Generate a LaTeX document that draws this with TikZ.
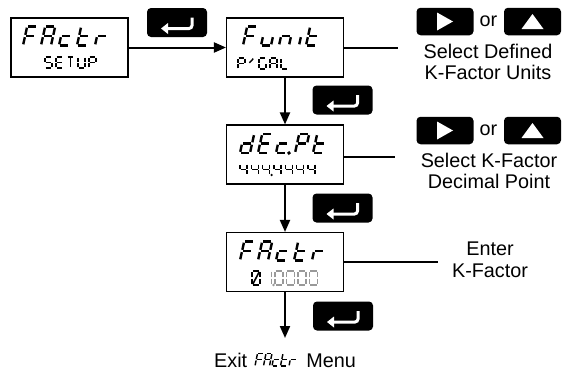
\documentclass[tikz,border=0pt]{standalone}
\usepackage{fontspec}
\setmainfont{Liberation Sans}
\usetikzlibrary{arrows.meta}

% Segment paths of one LCD cell (local coordinates, origin at bottom left, y up)
\def\lcdsega{(\G,\H) -- (\W-\G,\H)}
\def\lcdsegb{(\W,\H-\G) -- (\W,\H/2+\G)}
\def\lcdsegc{(\W,\H/2-\G) -- (\W,\G)}
\def\lcdsegd{(\G,0) -- (\W-\G,0)}
\def\lcdsege{(0,\G) -- (0,\H/2-\G)}
\def\lcdsegf{(0,\H/2+\G) -- (0,\H-\G)}
\def\lcdsegg{(\G,\H/2) -- (\W-\G,\H/2)}
\def\lcdsegm{(\W/2,\H-\G) -- (\W/2,\G)}
\def\lcdsegs{(\W*0.2,\H/2+\G) -- (\W*0.75,\H-\G)}
\def\lcdsegz{(\G,\G) -- (\W-\G,\H-\G)}
\def\lcdsegp{(\W+2*\G+0.6,0) circle[radius=0.3]}

% #1 x, #2 baseline y, #3 width, #4 height, #5 slant, #6 stroke, #7 segments
\newcommand\lcdglyph[7]{%
  \begin{scope}[shift={(#1,#2)}, x={(1pt,0pt)}, y={(#5pt,1pt)}, line width=#6pt]
    \def\W{#3}\def\H{#4}\pgfmathsetmacro\G{#6*0.5}
    \foreach \s in {#7}{\expandafter\draw\csname lcdseg\s\endcsname;}
  \end{scope}}
\newcommand\biglcd[3]{\lcdglyph{#1}{#2}{10}{19}{0.22}{2.4}{#3}}
\newcommand\smalllcd[3]{\lcdglyph{#1}{#2}{7}{11}{0}{1.4}{#3}}

\tikzset{
  lcdbox/.style={draw, line width=1.1pt, minimum width=117pt, minimum height=59pt, inner sep=0pt},
  enterkey/.style={fill=black, rounded corners=4pt, minimum width=60pt, minimum height=29pt, inner sep=0pt},
  navkey/.style={fill=black, rounded corners=4pt, minimum width=57pt, minimum height=27.5pt, inner sep=0pt},
  flow/.style={line width=2pt, -{Triangle[length=12pt,width=10pt]}},
  tie/.style={line width=2pt},
  lbl/.style={font=\fontsize{19.8}{22}\selectfont, inner sep=0pt},
  keymark/.style={white},
}

\begin{document}
\begin{tikzpicture}[x=1pt, y=-1pt]
\useasboundingbox (0,0) rectangle (562,372);

% display boxes
\node[lcdbox] (b1) at (69.5,47.5) {};
\node[lcdbox] (b2) at (285,47.5) {};
\node[lcdbox] (b3) at (285,154.5) {};
\node[lcdbox] (b4) at (285,262) {};

% enter keys
\node[enterkey] (e1) at (177,22.5) {};
\node[enterkey] (e2) at (342.5,100) {};
\node[enterkey] (e3) at (342.5,208) {};
\node[enterkey] (e4) at (343,316) {};
\foreach \k in {e1,e2,e3,e4}{
  \draw[keymark, line width=3pt, rounded corners=3pt, shift={(\k.center)}] (15,-5) |- (-10,6);
  \fill[keymark, shift={(\k.center)}] (-16,6) -- (-9,0.5) -- (-9,11.5) -- cycle;
}

% right and up keys
\node[navkey] (r1) at (445,21.5) {};
\node[navkey] (u1) at (532.5,21.5) {};
\node[navkey] (r2) at (445,130.5) {};
\node[navkey] (u2) at (532.5,130.5) {};
\foreach \k in {r1,r2}{
  \fill[keymark, shift={(\k.center)}] (-8,-9) -- (-8,9) -- (8,0) -- cycle;}
\foreach \k in {u1,u2}{
  \fill[keymark, shift={(\k.center)}] (-11,7.5) -- (11,7.5) -- (0,-7.5) -- cycle;}

% free ends of the connectors
\coordinate (c1) at (398,47.5);
\coordinate (c2) at (395,157);
\coordinate (c3) at (438,262);
\coordinate (c4) at (285,338);

% connectors
\draw[flow] (b1) -- (b2);
\draw[flow] (b2) -- (b3);
\draw[flow] (b3) -- (b4);
\draw[flow] (b4) -- (c4);
\draw[tie] (b2.east) -- (c1);
\draw[tie] (b3.east |- c2) -- (c2);
\draw[tie] (b4.east) -- (c3);

% labels
\node[lbl, anchor=base] (or1) at (488.5,26) {or};
\node[lbl, anchor=base] (or2) at (488.5,135) {or};
\node[lbl, anchor=base] (t1a) at (488,58) {Select Defined};
\node[lbl, anchor=base] (t1b) at (488,79) {K-Factor Units};
\node[lbl, anchor=base] (t2a) at (489,167) {Select K-Factor};
\node[lbl, anchor=base] (t2b) at (489,188) {Decimal Point};
\node[lbl, anchor=base] (t3a) at (490,255) {Enter};
\node[lbl, anchor=base] (t3b) at (490,277) {K-Factor};
\node[lbl, anchor=base west] (x1) at (214,367) {Exit};
\node[lbl, anchor=base east] (x2) at (356,367) {Menu};

% display FActr / SETUP
\biglcd{23}{45.5}{a,e,f,g}
\biglcd{41}{45.5}{a,b,c,e,f,g}
\biglcd{59}{45.5}{d,e,g}
\biglcd{77}{45.5}{d,e,f,g}
\biglcd{95}{45.5}{e,g}
\smalllcd{45}{68}{a,f,g,c,d}
\smalllcd{56}{68}{a,f,g,e,d}
\smalllcd{67}{68}{a,m}
\smalllcd{78}{68}{b,c,d,e,f}
\smalllcd{89}{68}{a,b,e,f,g}

% display Fun it / P/GAL
\biglcd{243}{45.5}{a,e,f,g}
\biglcd{261}{45.5}{c,d,e}
\biglcd{279}{45.5}{c,e,g}
\biglcd{299}{45.5}{e}
\biglcd{306}{45.5}{d,e,f,g}
\smalllcd{238}{69}{a,b,e,f,g}
\smalllcd{248}{69}{s}
\smalllcd{259}{69}{a,c,d,e,f}
\smalllcd{270}{69}{a,b,c,e,f,g}
\smalllcd{281}{69}{d,e,f}

% display dEc.Pt / decimal point positions
\biglcd{240}{153}{b,c,d,e,g}
\biglcd{258}{153}{a,d,e,f,g}
\biglcd{276}{153}{d,e,g,p}
\biglcd{295}{153}{a,b,e,f,g}
\biglcd{313}{153}{d,e,f,g}
\foreach \n in {0,1,3,4,5,6}{\smalllcd{240+11.3*\n}{175}{b,c,f,g}}
\smalllcd{262.6}{175}{b,c,f,g,p}

% display FActr / 0 1.0000
\biglcd{240}{260.5}{a,e,f,g}
\biglcd{258}{260.5}{a,b,c,e,f,g}
\biglcd{276}{260.5}{d,e,g}
\biglcd{294}{260.5}{d,e,f,g}
\biglcd{312}{260.5}{e,g}
\lcdglyph{252}{285}{8}{14}{0}{1.6}{a,b,c,d,e,f,z}
\begin{scope}[black!40]
  \lcdglyph{263.5}{285}{8}{14}{0}{1.4}{b,c,p}
  \foreach \n in {0,1,2,3}{\lcdglyph{275+11.5*\n}{285}{8}{14}{0}{1.4}{a,b,c,d,e,f}}
\end{scope}

% FActr inside the exit line
\lcdglyph{255}{366}{6}{12.5}{0.2}{1.4}{a,e,f,g}
\lcdglyph{263.5}{366}{6}{12.5}{0.2}{1.4}{a,b,c,e,f,g}
\lcdglyph{272}{366}{6}{12.5}{0.2}{1.4}{d,e,g}
\lcdglyph{280.5}{366}{6}{12.5}{0.2}{1.4}{d,e,f,g}
\lcdglyph{289}{366}{6}{12.5}{0.2}{1.4}{e,g}
\end{tikzpicture}
\end{document}
